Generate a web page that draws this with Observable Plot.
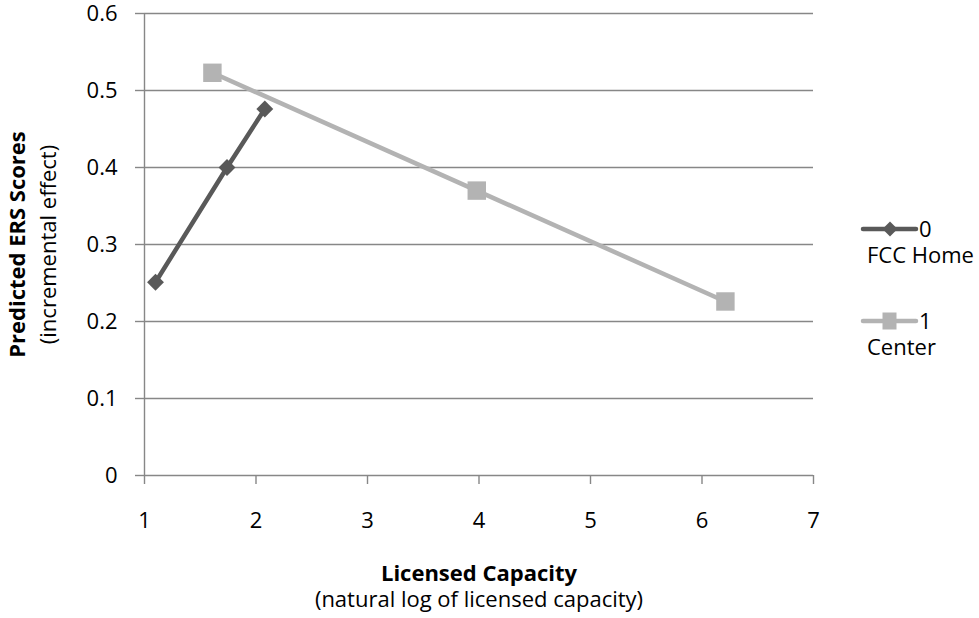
<!DOCTYPE html>
<html>
<head>
<meta charset="utf-8">
<script src="https://cdn.jsdelivr.net/npm/d3@7"></script>
<script src="https://cdn.jsdelivr.net/npm/@observablehq/plot@0.6"></script>
<style>
  html, body { margin: 0; padding: 0; background: #fff; }
  #wrap { position: relative; width: 979px; height: 618px; font-family: "Open Sans", sans-serif; }
  #wrap > svg { overflow: visible; }
  .lg { position: absolute; font-size: 22px; line-height: 22px; color: #000; white-space: nowrap; }
</style>
</head>
<body>
<div id="wrap"></div>
<script>
// Licensed capacity (natural log) and predicted ERS score, per care type
const homeCapacity = [1.0986, 1.74, 2.079];
const homeScore = [0.251, 0.400, 0.476];
const centerCapacity = [1.609, 3.98, 6.21];
const centerScore = [0.523, 0.370, 0.226];

const seriesKeys = ["0", "1"];
const seriesNames = ["FCC Home", "Center"];
const xTicks = [1, 2, 3, 4, 5, 6, 7];
const yTicks = [0, 0.1, 0.2, 0.3, 0.4, 0.5, 0.6];

const darkGray = "#595959";
const lightGray = "#b3b3b3";
const gridGray = "#878787";
const fs = 22;

const home = homeCapacity.map((x, i) => ({x, y: homeScore[i]}));
const center = centerCapacity.map((x, i) => ({x, y: centerScore[i]}));

const chart = Plot.plot({
  width: 979,
  height: 618,
  marginLeft: 144,
  marginRight: 166,
  marginTop: 13,
  marginBottom: 143,
  style: {fontFamily: "'Open Sans', sans-serif", fontSize: fs + "px", color: "#000", background: "#fff", overflow: "visible"},
  x: {domain: [1, 7], label: null},
  y: {domain: [0, 0.6], label: null},
  marks: [
    Plot.ruleY(yTicks, {stroke: gridGray, strokeWidth: 1.4}),
    Plot.ruleX([1], {stroke: gridGray, strokeWidth: 1.4}),
    Plot.axisY({ticks: yTicks, tickSize: 9, tickPadding: 18, stroke: gridGray, strokeWidth: 1.4, fill: "#000", fontSize: fs, tickFormat: d => String(d)}),
    Plot.axisX({ticks: xTicks, tickSize: 9, tickPadding: 28, stroke: gridGray, strokeWidth: 1.4, fill: "#000", fontSize: fs, tickFormat: d => String(d)}),
    // Center series
    Plot.line(center, {x: "x", y: "y", stroke: lightGray, strokeWidth: 4.5}),
    Plot.dot(center, {x: "x", y: "y", symbol: "square", r: 10.4, fill: lightGray, stroke: "none"}),
    // Family child care home series
    Plot.line(home, {x: "x", y: "y", stroke: darkGray, strokeWidth: 4.5}),
    Plot.dot(home, {x: "x", y: "y", symbol: "diamond2", r: 7.6, fill: darkGray, stroke: "none"}),
    // Axis titles
    Plot.text(["Licensed Capacity"], {frameAnchor: "bottom", lineAnchor: "middle", textAnchor: "middle", dy: 98, fontWeight: "bold", fontSize: fs, fill: "#000"}),
    Plot.text(["(natural log of licensed capacity)"], {frameAnchor: "bottom", lineAnchor: "middle", textAnchor: "middle", dy: 124, fontSize: fs, fill: "#000"}),
    Plot.text(["Predicted ERS Scores"], {frameAnchor: "left", rotate: -90, lineAnchor: "middle", textAnchor: "middle", dx: -127, fontWeight: "bold", fontSize: fs, fill: "#000"}),
    Plot.text(["(incremental effect)"], {frameAnchor: "left", rotate: -90, lineAnchor: "middle", textAnchor: "middle", dx: -96, fontSize: fs, fill: "#000"})
  ]
});

const wrap = document.getElementById("wrap");
wrap.appendChild(chart);

// Legend to the right of the plot: line with marker, key, then name below
const legendItems = [
  {key: seriesKeys[0], name: seriesNames[0], color: darkGray, shape: "diamond", lineY: 229},
  {key: seriesKeys[1], name: seriesNames[1], color: lightGray, shape: "square", lineY: 321}
];
for (const it of legendItems) {
  const svg = document.createElementNS("http://www.w3.org/2000/svg", "svg");
  svg.setAttribute("width", 60);
  svg.setAttribute("height", 24);
  svg.style.position = "absolute";
  svg.style.left = "859px";
  svg.style.top = (it.lineY - 12) + "px";
  const marker = it.shape === "diamond"
    ? `<path d="M31,4.5 L38.5,12 L31,19.5 L23.5,12 Z" fill="${it.color}"/>`
    : `<rect x="23.5" y="3.5" width="14" height="17" fill="${it.color}"/>`;
  svg.innerHTML = `<line x1="4" x2="57" y1="12" y2="12" stroke="${it.color}" stroke-width="4.5" stroke-linecap="round"/>${marker}`;
  wrap.appendChild(svg);

  const key = document.createElement("div");
  key.className = "lg";
  key.style.left = "919px";
  key.style.top = (it.lineY - 12) + "px";
  key.textContent = it.key;
  wrap.appendChild(key);

  const name = document.createElement("div");
  name.className = "lg";
  name.style.left = "867px";
  name.style.top = (it.lineY + 14) + "px";
  name.textContent = it.name;
  wrap.appendChild(name);
}
</script>
</body>
</html>
